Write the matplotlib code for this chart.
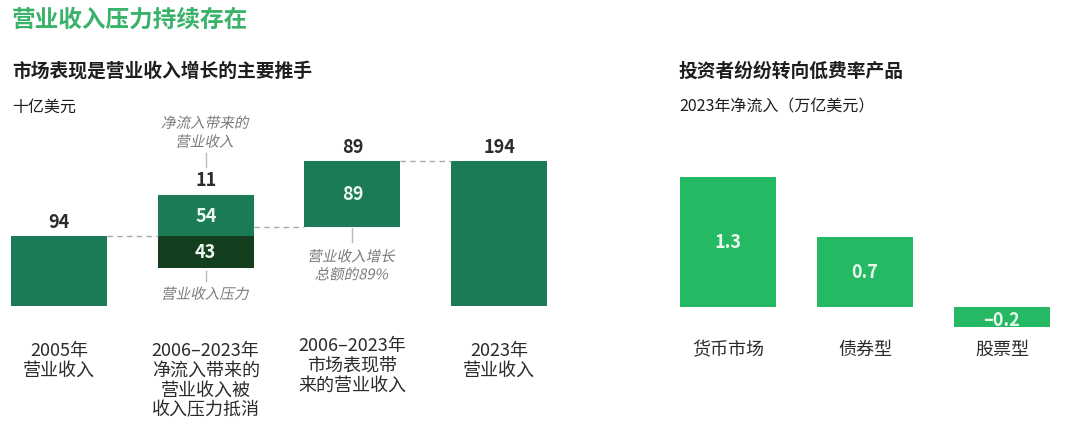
import matplotlib
matplotlib.use("Agg")
import matplotlib.pyplot as plt
from matplotlib.font_manager import FontProperties
from matplotlib.textpath import TextPath
from matplotlib.patches import PathPatch
from matplotlib.transforms import Affine2D, ScaledTranslation

plt.rcParams['font.family'] = ['Noto Sans CJK SC', 'DejaVu Sans']

# left: waterfall, billion USD
start_2005 = 94
inflow_gross = 54
fee_pressure = 43
net_inflow = 11
market_growth = 89
end_2023 = 194
left_cats = ['2005年\n营业收入', '2006–2023年\n净流入带来的\n营业收入被\n收入压力抵消',
             '2006–2023年\n市场表现带\n来的营业收入', '2023年\n营业收入']

# right: 2023 net flows, trillion USD
right_cats = ['货币市场', '债券型', '股票型']
right_vals = [1.3, 0.7, -0.2]

GREEN = '#1c7b57'
DARK = '#143f1f'
BRIGHT = '#24b962'
TITLE_GREEN = '#3bb26b'
TXT = '#2b2b2b'
GRAY = '#7a7a7a'

W, H = 1076, 439
fig = plt.figure(figsize=(W / 100, H / 100), dpi=100)


def px(x, y):
    return x / W, 1 - y / H


# left axes: 0.75 px per unit, baseline at pixel y 307
axL = fig.add_axes([0, 0, 560 / W, 1])
axL.set_xlim(-59 / 146.7, (560 - 59) / 146.7)
axL.set_ylim((307 - 439) / 0.75, 307 / 0.75)
axL.axis('off')

bw = 0.655
axL.bar(0, start_2005, width=bw, color=GREEN)
axL.bar(1, fee_pressure, bottom=start_2005 - fee_pressure, width=bw, color=DARK)
axL.bar(1, inflow_gross, bottom=start_2005, width=bw, color=GREEN)
level = start_2005 + net_inflow
axL.bar(2, market_growth, bottom=level, width=bw, color=GREEN)
axL.bar(3, end_2023, width=bw, color=GREEN)

dash = dict(color='#aaaaaa', lw=1, ls=(0, (4, 3)))
axL.plot([bw / 2, 1 - bw / 2], [start_2005] * 2, **dash)
axL.plot([1 + bw / 2, 2 - bw / 2], [level] * 2, **dash)
axL.plot([2 + bw / 2, 3 - bw / 2], [end_2023] * 2, **dash)

vfont = dict(fontsize=13, fontweight='bold', ha='center', va='center')
axL.text(0, start_2005 + 18, str(start_2005), color=TXT, **vfont)
axL.text(1, start_2005 + inflow_gross + 20, str(net_inflow), color=TXT, **vfont)
axL.text(2, end_2023 + 19, str(market_growth), color=TXT, **vfont)
axL.text(3, end_2023 + 19, str(end_2023), color=TXT, **vfont)
axL.text(1, start_2005 + inflow_gross / 2, str(inflow_gross), color='#eaf6ef', **vfont)
axL.text(1, start_2005 - fee_pressure / 2, str(fee_pressure), color='#eaf6ef', **vfont)
axL.text(2, level + market_growth / 2, str(market_growth), color='#eaf6ef', **vfont)

for i, lab in enumerate(left_cats):
    ytop = -40 if i == 2 else -47
    axL.text(i, ytop, lab, ha='center', va='top', fontsize=13, color=TXT, linespacing=1.12)

# thin pointer lines
axL.plot([1, 1], [186, 204], color='#bbbbbb', lw=1)
axL.plot([1, 1], [33, 47], color='#bbbbbb', lw=1)
axL.plot([2, 2], [85, 104], color='#bbbbbb', lw=1)

ifont = FontProperties(family='Noto Sans CJK SC', size=10.5)


def italic(ax, x, y, s):
    tp = TextPath((0, 0), s, prop=ifont)
    ext = tp.get_extents()
    cx = (ext.x0 + ext.x1) / 2
    tr = (Affine2D().translate(-cx, -ifont.get_size() * 0.38).skew_deg(12, 0).scale(1 / 72)
          + fig.dpi_scale_trans + ScaledTranslation(x, y, ax.transData))
    fig.add_artist(PathPatch(tp, transform=tr, fc=GRAY, ec='none'))


italic(axL, 1, 245, '净流入带来的')
italic(axL, 1, 220, '营业收入')
italic(axL, 1, 17, '营业收入压力')
italic(axL, 2, 67, '营业收入增长')
italic(axL, 2, 43, '总额的89%')

# right axes: 100 px per unit, baseline at pixel y 308
axR = fig.add_axes([600 / W, 0, 476 / W, 1])
axR.set_xlim((600 - 728) / 137, (1076 - 728) / 137)
axR.set_ylim((308 - 439) / 100, 308 / 100)
axR.axis('off')
axR.bar(range(3), right_vals, width=0.708, color=BRIGHT)
for i, v in enumerate(right_vals):
    lab = f'{v:.1f}'.replace('-', '–')
    axR.text(i, v / 2 - (0.02 if v < 0 else 0), lab, color='#eaf7ee', fontsize=13, fontweight='bold',
             ha='center', va='center')
    axR.text(i, -0.42, right_cats[i], ha='center', va='center', fontsize=13, color=TXT)

# headings
fig.text(*px(12, 20), '营业收入压力持续存在', fontsize=17, fontweight='bold', color=TITLE_GREEN, va='center')
fig.text(*px(12, 71), '市场表现是营业收入增长的主要推手', fontsize=13.5, fontweight='bold', color='#1e1e1e', va='center')
fig.text(*px(12, 107), '十亿美元', fontsize=11.5, color='#1e1e1e', va='center')
fig.text(*px(679, 71), '投资者纷纷转向低费率产品', fontsize=13.5, fontweight='bold', color='#1e1e1e', va='center')
fig.text(*px(679, 107), '2023年净流入（万亿美元）', fontsize=11.5, color='#1e1e1e', va='center')

fig.savefig('out.png', dpi=100, facecolor='white')
